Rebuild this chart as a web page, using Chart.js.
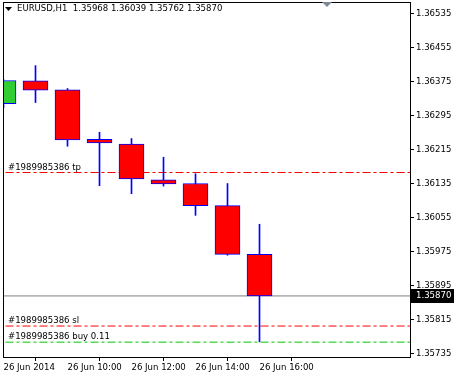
<!DOCTYPE html>
<html>
<head>
<meta charset="utf-8">
<script src="https://cdn.jsdelivr.net/npm/chart.js@4/dist/chart.umd.min.js"></script>
<style>
    html, body { margin: 0; padding: 0; background: #fff; }
    #wrap { width: 454px; height: 375px; position: relative; }
</style>
</head>
<body>
<div id="wrap"><canvas id="chart" width="454" height="375"></canvas></div>
<script>
// EURUSD H1, 26 Jun 2014 08:00 .. 16:00
const candleIndex = [0, 1, 2, 3, 4, 5, 6, 7, 8];
const opens  = [1.36323, 1.36377, 1.36356, 1.36239, 1.36228, 1.36144, 1.36135, 1.36083, 1.35968];
const highs  = [1.36380, 1.36413, 1.36359, 1.36256, 1.36241, 1.36197, 1.36158, 1.36135, 1.36039];
const lows   = [1.36314, 1.36326, 1.36223, 1.36130, 1.36111, 1.36129, 1.36060, 1.35966, 1.35762];
const closes = [1.36378, 1.36355, 1.36238, 1.36231, 1.36146, 1.36134, 1.36083, 1.35968, 1.35870];

const timeTickIndex = [0, 2, 4, 6, 8];
const timeLabels = ['26 Jun 2014', '26 Jun 10:00', '26 Jun 12:00', '26 Jun 14:00', '26 Jun 16:00'];
const priceTicks = [1.35735, 1.35815, 1.35895, 1.35975, 1.36055, 1.36135, 1.36215, 1.36295, 1.36375, 1.36455, 1.36535];

const tpLevel = 1.36161;
const slLevel = 1.35799;
const buyLevel = 1.35761;
const bidLevel = 1.35870;
const orderId = '#1989985386';
const headerText = 'EURUSD,H1  1.35968 1.36039 1.35762 1.35870';

const FONT = "'DejaVu Sans Condensed', 'Liberation Sans', sans-serif";
const BLUE = '#0000ff';

function levelLine(value, color) {
    return {
        type: 'line',
        data: [{ x: -1, y: value }, { x: 14, y: value }],
        borderColor: color,
        borderWidth: 1,
        borderDash: color === '#808080' ? [] : [8, 3, 3, 3],
        pointRadius: 0,
        order: 3
    };
}

const overlay = {
    id: 'overlay',
    afterDraw(chart) {
        const ctx = chart.ctx;
        const area = chart.chartArea;
        const y = chart.scales.y;
        ctx.save();

        // frame
        ctx.strokeStyle = '#000';
        ctx.lineWidth = 1;
        ctx.strokeRect(area.left + 0.5, area.top + 0.5, area.right - area.left, area.bottom - area.top);

        // header
        ctx.fillStyle = '#000';
        ctx.beginPath();
        ctx.moveTo(5, 7); ctx.lineTo(12, 7); ctx.lineTo(8.5, 11); ctx.closePath();
        ctx.fill();
        ctx.font = '9.5px ' + FONT;
        ctx.textBaseline = 'middle';
        ctx.textAlign = 'left';
        ctx.fillText(headerText, 17, 9);

        // shift marker
        ctx.fillStyle = '#7f8896';
        ctx.beginPath();
        ctx.moveTo(322, 2); ctx.lineTo(332, 2); ctx.lineTo(327, 7); ctx.closePath();
        ctx.fill();

        // order labels
        ctx.fillStyle = '#000';
        ctx.textBaseline = 'bottom';
        ctx.fillText(orderId + ' tp', 8, Math.round(y.getPixelForValue(tpLevel)) - 1);
        ctx.fillText(orderId + ' sl', 8, Math.round(y.getPixelForValue(slLevel)) - 1);
        ctx.fillText(orderId + ' buy 0.11', 8, Math.round(y.getPixelForValue(buyLevel)) - 1);

        // bid box
        const by = Math.round(y.getPixelForValue(bidLevel));
        ctx.fillStyle = '#000';
        ctx.fillRect(area.right + 1, by - 7, 454 - area.right - 1, 14);
        ctx.fillStyle = '#fff';
        ctx.textBaseline = 'middle';
        ctx.fillText(bidLevel.toFixed(5), area.right + 6, by);
        ctx.restore();
    }
};

new Chart(document.getElementById('chart').getContext('2d'), {
    type: 'bar',
    data: {
        datasets: [
            {
                label: 'body',
                data: candleIndex.map((i) => ({ x: i, y: [opens[i], closes[i]] })),
                backgroundColor: candleIndex.map((i) => closes[i] >= opens[i] ? '#32cd32' : '#ff0000'),
                borderColor: BLUE,
                borderWidth: 1,
                borderSkipped: false,
                barThickness: 25,
                grouped: false,
                order: 1
            },
            {
                label: 'wick',
                data: candleIndex.map((i) => ({ x: i, y: [lows[i], highs[i]] })),
                backgroundColor: BLUE,
                borderWidth: 0,
                barThickness: 1,
                grouped: false,
                order: 2
            },
            levelLine(tpLevel, '#ff0000'),
            levelLine(slLevel, '#ff0000'),
            levelLine(buyLevel, '#00c800'),
            levelLine(bidLevel, '#808080')
        ]
    },
    options: {
        responsive: false,
        animation: false,
        layout: { padding: { left: 3, top: 2, right: 0, bottom: 0 } },
        plugins: {
            legend: { display: false },
            tooltip: { enabled: false }
        },
        scales: {
            x: {
                type: 'linear',
                offset: false,
                min: -0.5 / 32,
                max: -0.5 / 32 + 407 / 32,
                afterBuildTicks(scale) {
                    scale.ticks = timeTickIndex.map((v) => ({ value: v }));
                },
                afterFit(scale) {
                    scale.height = 18;
                    scale.paddingLeft = 0;
                    scale.paddingRight = 0;
                },
                ticks: {
                    autoSkip: false,
                    maxRotation: 0,
                    align: 'start',
                    padding: 1,
                    color: '#000',
                    font: { family: FONT, size: 9.5 },
                    callback: (v) => timeLabels[timeTickIndex.indexOf(v)] || ''
                },
                grid: { drawOnChartArea: false, drawTicks: true, tickLength: 4, color: '#000' },
                border: { display: true, color: '#000' }
            },
            y: {
                position: 'right',
                min: 1.35726,
                max: 1.36563,
                afterBuildTicks(scale) {
                    scale.ticks = priceTicks.map((v) => ({ value: v }));
                },
                afterFit(scale) {
                    scale.width = 44;
                    scale.paddingTop = 0;
                    scale.paddingBottom = 0;
                },
                ticks: {
                    padding: 2,
                    color: '#000',
                    font: { family: FONT, size: 9.5 },
                    callback: (v) => v.toFixed(5)
                },
                grid: { drawOnChartArea: false, drawTicks: true, tickLength: 4, color: '#000' },
                border: { display: true, color: '#000' }
            }
        }
    },
    plugins: [overlay]
});
</script>
</body>
</html>
